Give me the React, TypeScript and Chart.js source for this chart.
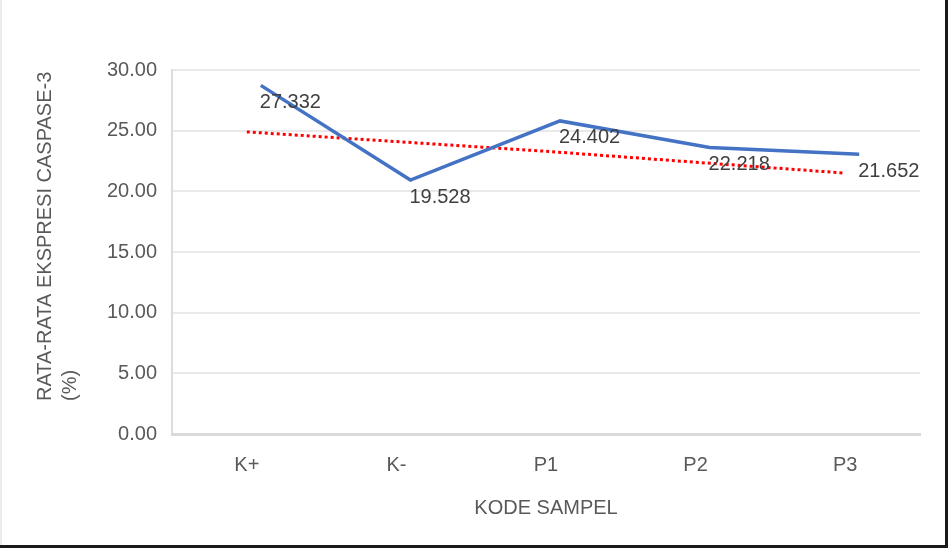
import { useEffect, useRef } from 'react';
import { Chart, registerables } from 'chart.js';

Chart.register(...registerables);

// Sample codes on the x axis
const categories = ['K+', 'K-', 'P1', 'P2', 'P3'];
// Mean caspase-3 expression (%) per sample, as printed on the labels
const meanValues = [27.332, 19.528, 24.402, 22.218, 21.652];
const meanLabels = ['27.332', '19.528', '24.402', '22.218', '21.652'];
// Dotted linear trend line at each category
const trendValues = [24.9, 24.1, 23.3, 22.4, 21.5];

const yTitleLines = ['RATA-RATA EKSPRESI CASPASE-3', '(%)'];
const xTitle = 'KODE SAMPEL';

const FONT = '"Liberation Sans", Arial, sans-serif';

export default function App() {
  const canvasRef = useRef<HTMLCanvasElement>(null);

  useEffect(() => {
    if (!canvasRef.current) return;

    // The blue series is drawn slightly up/right of its true points in the source
    const lineShift = {
      id: 'lineShift',
      beforeDatasetDraw(chart: any, args: any) {
        if (args.index !== 0) return;
        chart.ctx.save();
        chart.ctx.translate(14, -17);
      },
      afterDatasetDraw(chart: any, args: any) {
        if (args.index !== 0) return;
        chart.ctx.restore();
      },
    };

    // Value labels to the right of each point
    const valueLabels = {
      id: 'valueLabels',
      afterDatasetsDraw(chart: any) {
        const { ctx } = chart;
        const meta = chart.getDatasetMeta(0);
        ctx.save();
        ctx.font = `20px ${FONT}`;
        ctx.fillStyle = '#404040';
        ctx.textAlign = 'left';
        ctx.textBaseline = 'middle';
        meta.data.forEach((pt: any, i: number) => {
          ctx.fillText(meanLabels[i], pt.x + 13, pt.y);
        });
        ctx.restore();
      },
    };

    // Two-line rotated y-axis title, left aligned toward the bottom
    const yTitle = {
      id: 'yTitle',
      afterDraw(chart: any) {
        const { ctx, chartArea } = chart;
        ctx.save();
        ctx.font = `20px ${FONT}`;
        ctx.fillStyle = '#595959';
        ctx.textAlign = 'left';
        ctx.textBaseline = 'middle';
        yTitleLines.forEach((line, i) => {
          ctx.save();
          ctx.translate(45 + i * 25, chartArea.bottom - 33);
          ctx.rotate(-Math.PI / 2);
          ctx.fillText(line, 0, 0);
          ctx.restore();
        });
        ctx.restore();
      },
    };

    const chart = new Chart(canvasRef.current, {
      type: 'line',
      data: {
        labels: categories,
        datasets: [
          {
            label: 'Rata-rata',
            data: meanValues,
            borderColor: '#4472c4',
            borderWidth: 3.5,
            pointRadius: 0,
            tension: 0,
            fill: false,
          },
          {
            label: 'Trend',
            data: trendValues,
            borderColor: '#ff0000',
            borderWidth: 3,
            borderDash: [3, 3],
            pointRadius: 0,
            tension: 0,
            fill: false,
          },
        ],
      },
      options: {
        animation: false,
        responsive: true,
        maintainAspectRatio: false,
        layout: { padding: { top: 70, right: 28, left: 0, bottom: 0 } },
        plugins: {
          legend: { display: false },
          tooltip: { enabled: false },
        },
        scales: {
          x: {
            offset: true,
            grid: { display: false, drawTicks: false },
            border: { display: true, color: '#d9d9d9', width: 3 },
            ticks: {
              color: '#595959',
              font: { family: FONT, size: 20 },
              padding: 19,
            },
            title: {
              display: true,
              text: xTitle,
              color: '#595959',
              font: { family: FONT, size: 20 },
              padding: { top: 0, bottom: 28 },
            },
            afterFit: (scale: any) => {
              scale.height = 114;
            },
          },
          y: {
            min: 0,
            max: 30,
            ticks: {
              stepSize: 5,
              color: '#595959',
              font: { family: FONT, size: 20 },
              padding: 15,
              callback: (v: any) => Number(v).toFixed(2),
            },
            grid: { color: '#e9e9e9', lineWidth: 2, drawTicks: false },
            border: { display: true, color: '#dcdcdc', width: 2 },
            afterFit: (scale: any) => {
              scale.width = 172;
            },
          },
        },
      },
      plugins: [lineShift, valueLabels, yTitle],
    });

    return () => chart.destroy();
  }, []);

  return (
    <div
      style={{
        position: 'fixed',
        left: 0,
        top: 0,
        width: 948,
        height: 548,
        background: '#fff',
      }}
    >
      <canvas ref={canvasRef} />
      <div style={{ position: 'absolute', left: 0, top: 0, width: 2, height: 548, background: '#ececec' }} />
      <div style={{ position: 'absolute', right: 0, top: 0, width: 3, height: 548, background: '#1a1a1a' }} />
      <div style={{ position: 'absolute', left: 0, bottom: 0, width: 948, height: 3, background: '#1a1a1a' }} />
    </div>
  );
}
